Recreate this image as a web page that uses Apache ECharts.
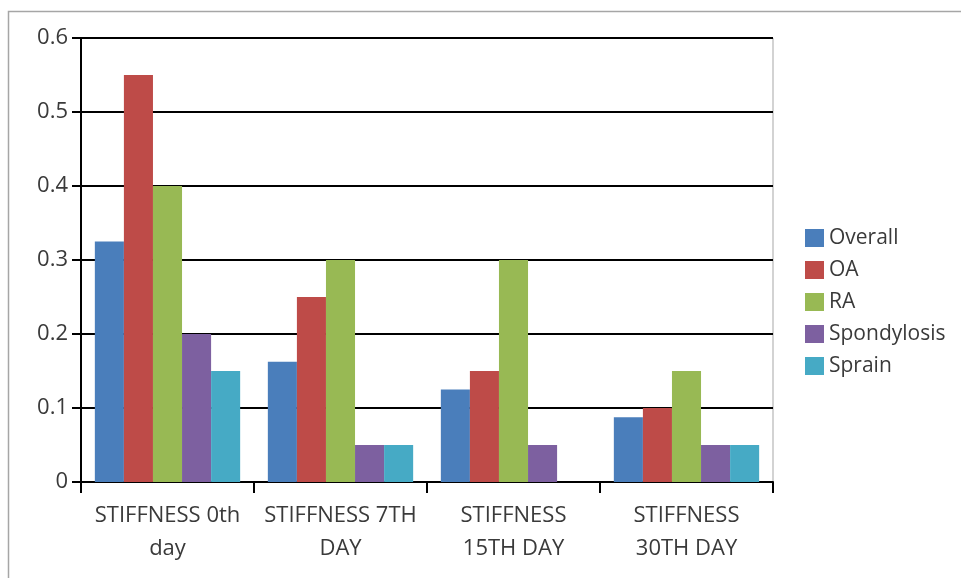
<!DOCTYPE html>
<html>
<head>
<meta charset="utf-8">
<script src="https://cdn.jsdelivr.net/npm/echarts@6/dist/echarts.min.js"></script>
<style>
  html, body { margin: 0; padding: 0; background: #fff; }
  #chart { width: 961px; height: 578px; }
</style>
</head>
<body>
<div id="chart"></div>
<script>
// Stiffness scores over the follow-up period, by patient group
var categories = ['STIFFNESS 0th\nday', 'STIFFNESS 7TH\nDAY', 'STIFFNESS\n15TH DAY', 'STIFFNESS\n30TH DAY'];
var overall     = [0.325, 0.1625, 0.125, 0.0875];
var oa          = [0.55, 0.25, 0.15, 0.1];
var ra          = [0.4, 0.3, 0.3, 0.15];
var spondylosis = [0.2, 0.05, 0.05, 0.05];
var sprain      = [0.15, 0.05, 0, 0.05];
var yTickLabels = ['0', '0.1', '0.2', '0.3', '0.4', '0.5', '0.6'];

var seriesDefs = [
  { name: 'Overall', data: overall, color: '#4a7ebb' },
  { name: 'OA', data: oa, color: '#be4b48' },
  { name: 'RA', data: ra, color: '#98b954' },
  { name: 'Spondylosis', data: spondylosis, color: '#7d60a0' },
  { name: 'Sprain', data: sprain, color: '#46aac5' }
];

var FONT = '"Open Sans", sans-serif';
var TEXT = '#3a3a3a';

var chart = echarts.init(document.getElementById('chart'), null, { renderer: 'canvas' });

chart.setOption({
  animation: false,
  backgroundColor: '#fff',
  textStyle: { fontFamily: FONT },
  graphic: [
    // outer frame (left and top edges)
    { type: 'polyline', shape: { points: [[8.5, 578], [8.5, 11.5], [961, 11.5]] },
      style: { stroke: '#a6a6a6', lineWidth: 1.5, fill: null }, silent: true },
    // plot area right border
    { type: 'line', shape: { x1: 773, y1: 38, x2: 773, y2: 482 },
      style: { stroke: '#c4c4c4', lineWidth: 1.5 }, silent: true }
  ],
  legend: {
    orient: 'vertical',
    left: 800,
    top: 222,
    itemWidth: 19,
    itemHeight: 18,
    itemGap: 10,
    icon: 'rect',
    textStyle: { fontFamily: FONT, fontSize: 21, color: TEXT, lineHeight: 22 },
    data: seriesDefs.map(function (s) { return s.name; })
  },
  grid: { left: 81, right: 188, top: 38, bottom: 96, containLabel: false },
  xAxis: {
    type: 'category',
    data: categories,
    axisLine: { show: true, lineStyle: { color: '#000', width: 2 } },
    axisTick: { show: true, length: 11, lineStyle: { color: '#000', width: 2 } },
    axisLabel: {
      interval: 0,
      margin: 17,
      fontFamily: FONT,
      fontSize: 22,
      lineHeight: 33,
      color: TEXT
    },
    splitLine: { show: false }
  },
  yAxis: {
    type: 'value',
    min: 0,
    max: 0.6,
    interval: 0.1,
    axisLine: { show: true, lineStyle: { color: '#000', width: 2 } },
    axisTick: { show: true, length: 9, lineStyle: { color: '#000', width: 2 } },
    axisLabel: {
      margin: 13,
      fontFamily: FONT,
      fontSize: 22,
      color: TEXT,
      formatter: function (v) { return yTickLabels[Math.round(v * 10)]; }
    },
    splitLine: { show: true, lineStyle: { color: '#000', width: 2 } }
  },
  series: seriesDefs.map(function (s) {
    return {
      name: s.name,
      type: 'bar',
      data: s.data,
      barGap: '0%',
      barCategoryGap: '16%',
      itemStyle: { color: s.color },
      emphasis: { disabled: true }
    };
  })
});
</script>
</body>
</html>
